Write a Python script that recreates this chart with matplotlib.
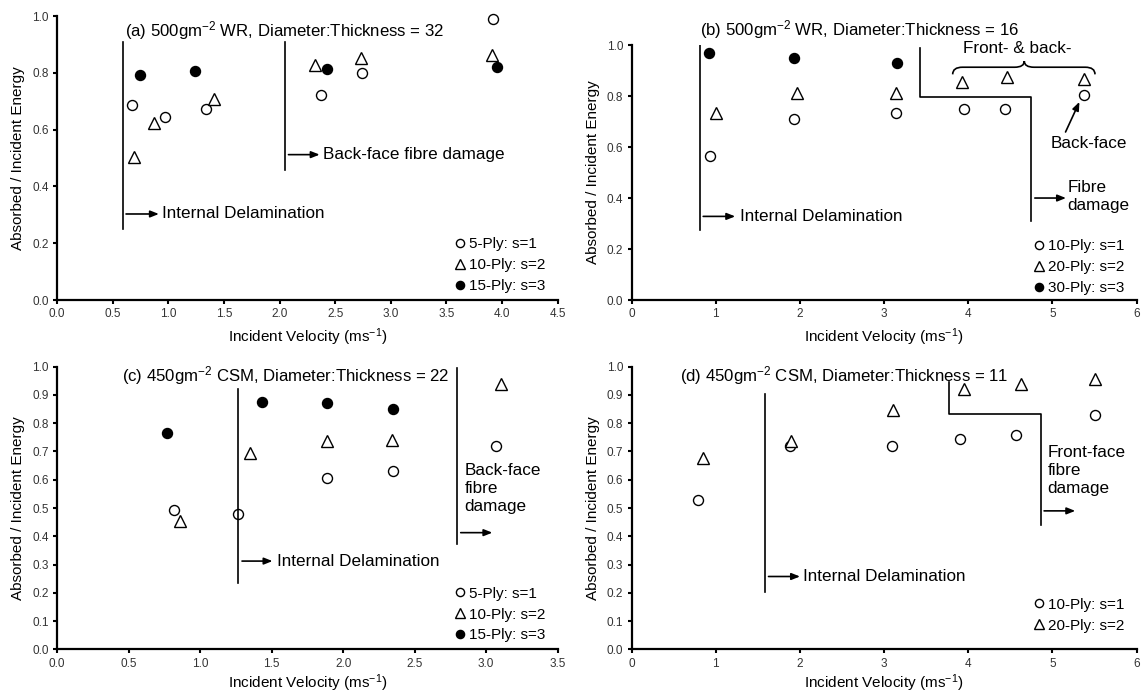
import matplotlib
matplotlib.use('Agg')
import matplotlib.pyplot as plt
from matplotlib.path import Path
from matplotlib.patches import PathPatch

plt.rcParams['font.family'] = ['Liberation Sans', 'DejaVu Sans']
plt.rcParams['mathtext.default'] = 'regular'

# (a) 500gm-2 WR, Diameter:Thickness = 32
a_v_s1 = [0.67, 0.97, 1.34, 2.37, 2.74, 3.92]
a_e_s1 = [0.688, 0.644, 0.671, 0.722, 0.799, 0.988]
a_v_s2 = [0.69, 0.875, 1.41, 2.32, 2.73, 3.91]
a_e_s2 = [0.505, 0.624, 0.707, 0.829, 0.853, 0.862]
a_v_s3 = [0.75, 1.24, 2.43, 3.95]
a_e_s3 = [0.793, 0.808, 0.812, 0.820]
a_labels = ['5-Ply: s=1', '10-Ply: s=2', '15-Ply: s=3']

# (b) 500gm-2 WR, Diameter:Thickness = 16
b_v_s1 = [0.93, 1.93, 3.14, 3.95, 4.44, 5.38]
b_e_s1 = [0.564, 0.711, 0.732, 0.751, 0.751, 0.806]
b_v_s2 = [1.00, 1.96, 3.14, 3.93, 4.46, 5.37]
b_e_s2 = [0.734, 0.812, 0.810, 0.856, 0.875, 0.867]
b_v_s3 = [0.92, 1.93, 3.15]
b_e_s3 = [0.967, 0.951, 0.929]
b_labels = ['10-Ply: s=1', '20-Ply: s=2', '30-Ply: s=3']

# (c) 450gm-2 CSM, Diameter:Thickness = 22
c_v_s1 = [0.82, 1.265, 1.885, 2.35, 3.07]
c_e_s1 = [0.492, 0.478, 0.606, 0.631, 0.720]
c_v_s2 = [0.86, 1.35, 1.885, 2.34, 3.10]
c_e_s2 = [0.454, 0.693, 0.737, 0.739, 0.940]
c_v_s3 = [0.77, 1.43, 1.89, 2.35]
c_e_s3 = [0.766, 0.876, 0.870, 0.850]
c_labels = ['5-Ply: s=1', '10-Ply: s=2', '15-Ply: s=3']

# (d) 450gm-2 CSM, Diameter:Thickness = 11
d_v_s1 = [0.79, 1.88, 3.09, 3.90, 4.57, 5.51]
d_e_s1 = [0.527, 0.719, 0.720, 0.743, 0.758, 0.828]
d_v_s2 = [0.85, 1.89, 3.10, 3.95, 4.63, 5.51]
d_e_s2 = [0.678, 0.738, 0.847, 0.920, 0.939, 0.955]
d_labels = ['10-Ply: s=1', '20-Ply: s=2']

styles = [dict(marker='o', ms=7.2, mfc='white', mec='black', mew=1.0),
          dict(marker='^', ms=8, mfc='white', mec='black', mew=1.0),
          dict(marker='o', ms=7.2, mfc='black', mec='black', mew=1.0)]

FS = 12.3
TFS = 12.1


def setup(ax, xmax, xstep, xfmt, ystep, xpad=4):
    for s in ['top', 'right']:
        ax.spines[s].set_visible(False)
    for s in ['left', 'bottom']:
        ax.spines[s].set_linewidth(1.6)
    ax.set_xlim(0, xmax)
    ax.set_ylim(0, 1.0)
    n = int(round(xmax / xstep))
    ax.set_xticks([i * xstep for i in range(n + 1)])
    ax.set_xticklabels([xfmt.format(i * xstep) for i in range(n + 1)])
    m = int(round(1.0 / ystep))
    ax.set_yticks([i * ystep for i in range(m + 1)])
    ax.set_yticklabels(['{:.1f}'.format(i * ystep) for i in range(m + 1)])
    ax.tick_params(direction='out', length=3, width=1.5, labelsize=8.5,
                   labelcolor='#333333', pad=3)
    ax.set_xlabel('Incident Velocity (ms$^{-1}$)', fontsize=11, labelpad=xpad)
    ax.set_ylabel('Absorbed / Incident Energy', fontsize=11, labelpad=5)


def series(ax, vs, es, labels, anchor):
    handles = []
    for v, e, st, lab in zip(vs, es, styles, labels):
        h, = ax.plot(v, e, linestyle='none', label=lab, clip_on=False, **st)
        handles.append(h)
    ax.legend(handles=handles, loc='lower right', bbox_to_anchor=anchor,
              frameon=False, fontsize=11, markerscale=0.82, handlelength=0.7,
              handletextpad=0.2, labelspacing=0.45, borderaxespad=0,
              borderpad=0)


def vline(ax, x, y0, y1):
    ax.plot([x, x], [y0, y1], color='black', lw=1.2)


def arrow(ax, x0, x1, y):
    ax.annotate('', xy=(x1, y), xytext=(x0, y),
                arrowprops=dict(arrowstyle='-|>,head_length=0.5,head_width=0.2',
                                color='black', lw=1.2, shrinkA=0, shrinkB=0))


fig = plt.figure(figsize=(11.41, 6.95), dpi=100)
ax_a = fig.add_axes([0.050, 0.5683, 0.4388, 0.4086])
ax_b = fig.add_axes([0.5536, 0.5683, 0.4426, 0.3669])
ax_c = fig.add_axes([0.050, 0.0655, 0.4388, 0.4070])
ax_d = fig.add_axes([0.5536, 0.0655, 0.4426, 0.4070])

# (a)
setup(ax_a, 4.5, 0.5, '{:.1f}', 0.2)
series(ax_a, [a_v_s1, a_v_s2, a_v_s3], [a_e_s1, a_e_s2, a_e_s3], a_labels, (0.975, 0.025))
ax_a.text(0.61, 0.95, '(a) 500gm$^{-2}$ WR, Diameter:Thickness = 32', fontsize=TFS, va='center')
vline(ax_a, 0.59, 0.25, 0.909)
arrow(ax_a, 0.62, 0.915, 0.303)
ax_a.text(0.94, 0.303, 'Internal Delamination', fontsize=FS, va='center')
vline(ax_a, 2.045, 0.459, 0.907)
arrow(ax_a, 2.08, 2.36, 0.512)
ax_a.text(2.39, 0.512, 'Back-face fibre damage', fontsize=FS, va='center')

# (b)
setup(ax_b, 6, 1, '{:.0f}', 0.2)
series(ax_b, [b_v_s1, b_v_s2, b_v_s3], [b_e_s1, b_e_s2, b_e_s3], b_labels, (0.975, 0.02))
ax_b.text(0.81, 1.062, '(b) 500gm$^{-2}$ WR, Diameter:Thickness = 16', fontsize=TFS,
          va='center', clip_on=False)
vline(ax_b, 0.81, 0.274, 1.0)
arrow(ax_b, 0.85, 1.23, 0.328)
ax_b.text(1.285, 0.328, 'Internal Delamination', fontsize=FS, va='center')
ax_b.plot([3.43, 3.43, 4.75, 4.75], [0.987, 0.798, 0.798, 0.308], color='black', lw=1.2)
arrow(ax_b, 4.79, 5.16, 0.40)
ax_b.text(5.18, 0.405, 'Fibre\ndamage', fontsize=FS, va='center', linespacing=1.25)
brace = Path([(3.814, 0.885), (3.814, 0.913), (3.93, 0.913), (4.55, 0.913),
              (4.665, 0.913), (4.665, 0.937), (4.665, 0.913), (4.78, 0.913),
              (5.39, 0.913), (5.505, 0.913), (5.505, 0.885)],
             [Path.MOVETO, Path.CURVE3, Path.CURVE3, Path.LINETO,
              Path.CURVE3, Path.CURVE3, Path.CURVE3, Path.CURVE3,
              Path.LINETO, Path.CURVE3, Path.CURVE3])
ax_b.add_patch(PathPatch(brace, facecolor='none', edgecolor='black', lw=1.2))
ax_b.text(4.58, 0.988, 'Front- & back-', fontsize=FS, ha='center', va='center')
ax_b.annotate('', xy=(5.32, 0.777), xytext=(5.155, 0.659),
              arrowprops=dict(arrowstyle='-|>,head_length=0.5,head_width=0.2',
                              color='black', lw=1.2, shrinkA=0, shrinkB=0))
ax_b.text(5.43, 0.613, 'Back-face', fontsize=FS, ha='center', va='center')

# (c)
setup(ax_c, 3.5, 0.5, '{:.1f}', 0.1, xpad=2)
series(ax_c, [c_v_s1, c_v_s2, c_v_s3], [c_e_s1, c_e_s2, c_e_s3], c_labels, (0.975, 0.025))
ax_c.text(0.452, 0.97, '(c) 450gm$^{-2}$ CSM, Diameter:Thickness = 22', fontsize=TFS, va='center')
vline(ax_c, 1.265, 0.235, 0.92)
arrow(ax_c, 1.293, 1.506, 0.3125)
ax_c.text(1.537, 0.3125, 'Internal Delamination', fontsize=FS, va='center')
vline(ax_c, 2.797, 0.373, 0.996)
arrow(ax_c, 2.822, 3.043, 0.413)
ax_c.text(2.847, 0.57, 'Back-face\nfibre\ndamage', fontsize=FS, va='center', linespacing=1.25)

# (d)
setup(ax_d, 6, 1, '{:.0f}', 0.1, xpad=2)
series(ax_d, [d_v_s1, d_v_s2], [d_e_s1, d_e_s2], d_labels, (0.975, 0.06))
ax_d.text(0.571, 0.97, '(d) 450gm$^{-2}$ CSM, Diameter:Thickness = 11', fontsize=TFS, va='center')
vline(ax_d, 1.583, 0.203, 0.902)
arrow(ax_d, 1.626, 2.0, 0.258)
ax_d.text(2.037, 0.258, 'Internal Delamination', fontsize=FS, va='center')
ax_d.plot([3.767, 3.767, 4.866, 4.866], [0.945, 0.833, 0.833, 0.44], color='black', lw=1.2)
arrow(ax_d, 4.90, 5.27, 0.49)
ax_d.text(4.94, 0.631, 'Front-face\nfibre\ndamage', fontsize=FS, va='center', linespacing=1.25)

fig.savefig('out.png', dpi=100)
